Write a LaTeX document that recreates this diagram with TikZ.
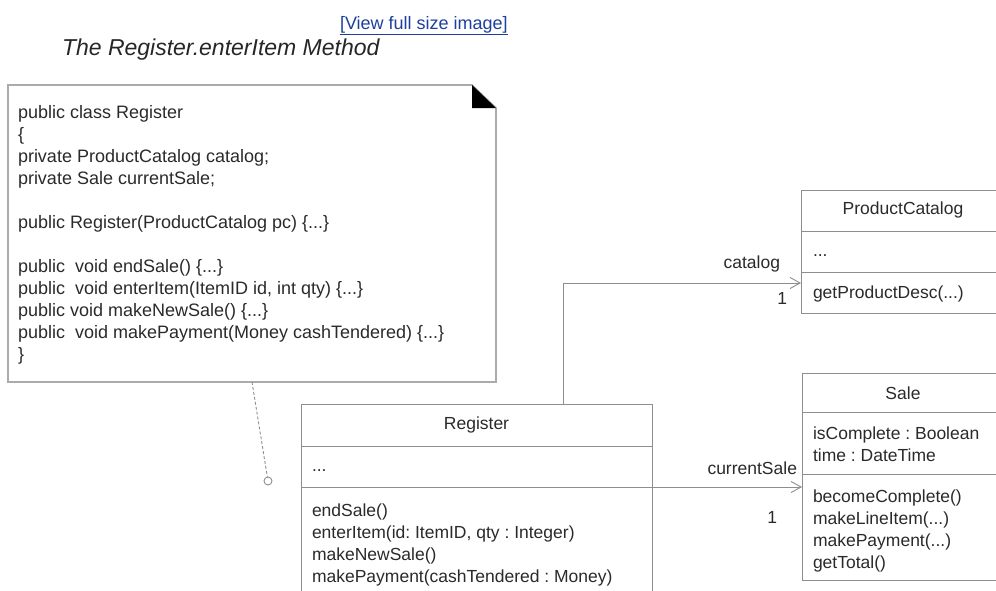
\documentclass[tikz,border=0pt]{standalone}
\usepackage{fontspec}
\setmainfont{Liberation Sans}
\frenchspacing
\usetikzlibrary{arrows.meta,positioning}
\definecolor{umlline}{HTML}{8E8E8E}
\definecolor{notegray}{HTML}{ABABAB}
\definecolor{umltext}{HTML}{2A2A2A}
\definecolor{linkblue}{HTML}{1D3F9E}
\begin{document}
\begin{tikzpicture}[x=1pt,y=-1pt,
  every node/.style={inner sep=0pt,outer sep=0pt,text=umltext,font=\fontsize{17.5}{22}\selectfont},
  classbox/.style={draw=umlline,line width=0.9pt,anchor=north west,minimum width=#1},
  member/.style={anchor=base west,align=left},
  rolelabel/.style={anchor=base east},
  assoc/.style={draw=umlline,line width=0.9pt,-{Straight Barb[length=10pt,width=11pt]}}]
\useasboundingbox (0,0) rectangle (996,590);
\clip (0,0) rectangle (996,590);
% heading
\node[anchor=base west,text=linkblue,font=\fontsize{18}{22}\selectfont] (link) at (340,29) {\underline{[View full size image]}};
\node[anchor=base west,text=black!85,font=\fontsize{23}{28}\selectfont\itshape] (title) at (62,55) {The Register.enterItem Method};
% note with the java code (member nodes sit on their last line)
\node[anchor=north west,minimum width=488pt,minimum height=297pt] (note) at (8,85) {};
\draw[draw=notegray,line width=1.6pt] (note.north west) -- ([xshift=-24pt]note.north east) -- ([yshift=-23pt]note.north east) -- (note.south east) -- (note.south west) -- cycle;
\fill[black] ([xshift=-24pt]note.north east) -- ([xshift=-24pt,yshift=-23pt]note.north east) -- ([yshift=-23pt]note.north east) -- cycle;
\node[member,font=\fontsize{18}{22}\selectfont] (code) at (18,360) {public class Register\\ \{\\ private ProductCatalog catalog;\\ private Sale currentSale;\\[22pt] public Register(ProductCatalog pc) \{...\}\\[22pt] public\ \ void endSale() \{...\}\\ public\ \ void enterItem(ItemID id, int qty) \{...\}\\ public void makeNewSale() \{...\}\\ public\ \ void makePayment(Money cashTendered) \{...\}\\ \}};
% classes
\node[classbox=351pt,minimum height=250pt] (reg) at (301,404) {};
\draw[umlline,line width=0.9pt] ([yshift=-42pt]reg.north west) coordinate (reg1) -- (reg1 -| reg.east);
\draw[umlline,line width=0.9pt] ([yshift=-83pt]reg.north west) coordinate (reg2) -- (reg2 -| reg.east);
\node (regname) at ([yshift=-21pt]reg.north) {Register};
\node[member] (regattr) at (312,471) {...};
\node[member] (regops) at (312,582) {endSale()\\ enterItem(id: ItemID, qty : Integer)\\ makeNewSale()\\ makePayment(cashTendered : Money)};
\node[classbox=204pt,minimum height=123pt] (pc) at (801,190) {};
\draw[umlline,line width=0.9pt] ([yshift=-41pt]pc.north west) coordinate (pc1) -- (pc1 -| pc.east);
\draw[umlline,line width=0.9pt] ([yshift=-82pt]pc.north west) coordinate (pc2) -- (pc2 -| pc.east);
\node (pcname) at ([yshift=-20pt]pc.north) {ProductCatalog};
\node[member] (pcattr) at (813,256) {...};
\node[member] (pcops) at (813,298) {getProductDesc(...)};
\node[classbox=202pt,minimum height=207pt] (sale) at (802,373) {};
\draw[umlline,line width=0.9pt] ([yshift=-39pt]sale.north west) coordinate (sale1) -- (sale1 -| sale.east);
\draw[umlline,line width=0.9pt] ([yshift=-101pt]sale.north west) coordinate (sale2) -- (sale2 -| sale.east);
\node (salename) at ([yshift=-20pt]sale.north) {Sale};
\node[member] (saleattr) at (813,461) {isComplete : Boolean\\ time : DateTime};
\node[member] (saleops) at (813,568) {becomeComplete()\\ makeLineItem(...)\\ makePayment(...)\\ getTotal()};
% associations
\draw[assoc] ([xshift=262pt]reg.north west) |- ([yshift=-93pt]pc.north west);
\node[rolelabel] (catrole) at (780,268) {catalog};
\node[rolelabel] (catmult) at (787,304) {1};
\draw[assoc] (reg2 -| reg.east) -- (reg2 -| sale.west);
\node[rolelabel] (salerole) at (797,474) {currentSale};
\node[rolelabel] (salemult) at (777,523) {1};
% note anchor
\node[circle,draw=umlline,line width=0.9pt,minimum size=8pt] (pin) at (268,481) {};
\draw[umlline,line width=0.9pt,densely dashed] ([xshift=244pt]note.south west) -- (pin);
\end{tikzpicture}
\end{document}
